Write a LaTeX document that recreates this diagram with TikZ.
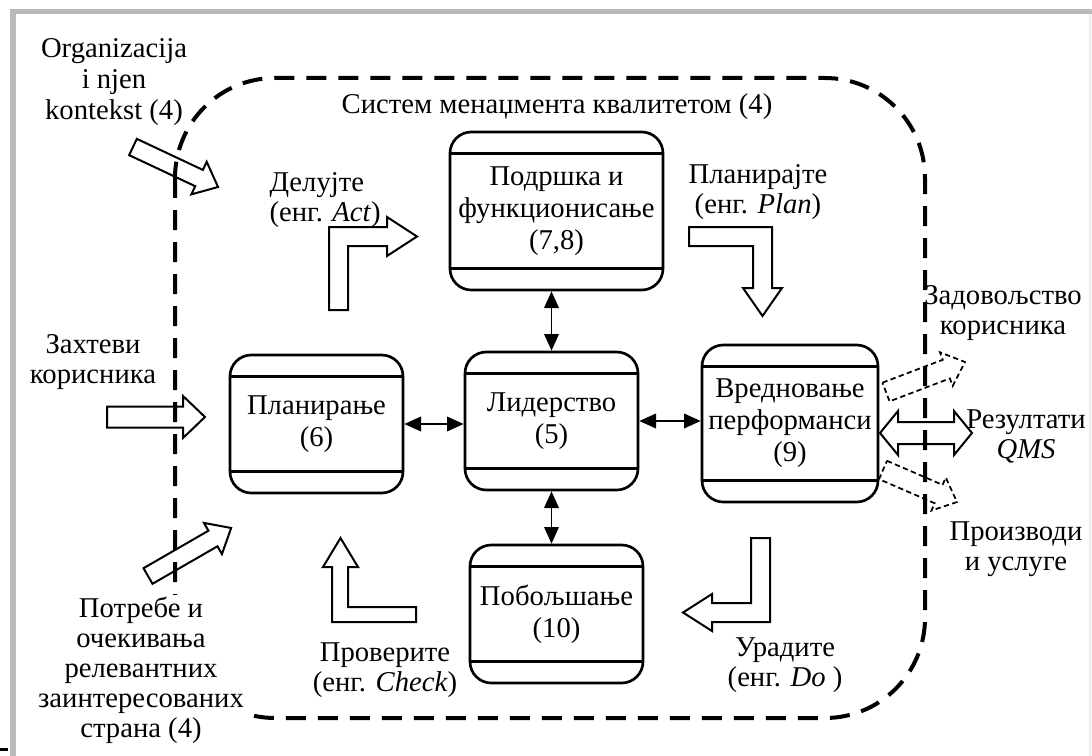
\documentclass[tikz,border=0pt]{standalone}
\usepackage{fontspec}
\setmainfont{Liberation Serif}
\usetikzlibrary{arrows.meta}

% straight hollow block arrow: [style] {tail x,y} {rotation} {length} {shaft half} {head half} {head length}
\newcommand{\blockarrow}[7][]{%
  \draw[blk,#1,shift={(#2)},rotate=#3]
    (0,-#5) -- ({#4-#7},-#5) -- ({#4-#7},-#6) -- (#4,0) --
    ({#4-#7},#6) -- ({#4-#7},#5) -- (0,#5) -- cycle;}

\begin{document}
\begin{tikzpicture}[x=0.75pt,y=-0.75pt,
  lbl/.style={align=center,font=\fontsize{21.5pt}{22.5pt}\selectfont,inner sep=1pt},
  box/.style={draw,line width=2pt,rounded corners=16pt,align=center,inner sep=0pt,
    font=\fontsize{21.5pt}{24pt}\selectfont},
  band/.style={line width=2pt},
  sysline/.style={line width=3pt,dash pattern=on 15pt off 9pt,rounded corners=75pt},
  blk/.style={draw,line width=1.5pt,line join=miter},
  blkdash/.style={line width=1.3pt,dash pattern=on 4pt off 2.5pt},
  link/.style={line width=1.1pt,{Triangle[length=12.5pt,width=11pt]}-{Triangle[length=12.5pt,width=11pt]}}]

\useasboundingbox (0,0) rectangle (1092,756);

% outer frame
\fill[black!27] (10,9) rectangle (1092,14);
\fill[black!27] (10,9) rectangle (16,756);
\draw[black!8,line width=1pt] (1090,14) -- (1090,756);
\fill[black] (0,748) rectangle (8,751);

% system boundary
\draw[sysline] (175,78) rectangle (925,718);

% process boxes
\node[box,minimum width=159.75pt,minimum height=118.5pt] (sup) at (556.5,211)
  {Подршка и\\функционисање\\(7,8)};
\node[box,minimum width=129.75pt,minimum height=103.5pt] (plan) at (316.5,424)
  {Планирање\\(6)};
\node[box,minimum width=129.75pt,minimum height=103.5pt] (lid) at (551.5,421)
  {Лидерство\\(5)};
\node[box,minimum width=132pt,minimum height=117.75pt] (eval) at (790,423.5)
  {Вредновање\\перформанси\\(9)};
\node[box,minimum width=129.75pt,minimum height=103.5pt] (imp) at (556.5,614)
  {Побољшање\\(10)};

\foreach \n in {sup,plan,lid,eval,imp}{
  \draw[band] ([yshift=-17.25pt]\n.north west) -- ([yshift=-17.25pt]\n.north east);
  \draw[band] ([yshift=17.25pt]\n.south west) -- ([yshift=17.25pt]\n.south east);
}

% links between the boxes
\draw[link] (lid.north) -- (lid.north |- sup.south);
\draw[link] (lid.south) -- (lid.south |- imp.north);
\draw[link] (plan.east) -- (plan.east -| lid.west);
\draw[link] (lid.east) -- (lid.east -| eval.west);

% PDCA turning arrows
\draw[blk] (329,310) -- (329,227) -- (387,227) -- (387,217) -- (417,236.5) -- (387,256)
  -- (387,246) -- (348,246) -- (348,310) -- cycle;
\draw[blk] (689,227) -- (772,227) -- (772,288) -- (782,288) -- (762.5,316) -- (743,288)
  -- (753,288) -- (753,246) -- (689,246) -- cycle;
\draw[blk] (770,538) -- (770,622) -- (712,622) -- (712,631) -- (683,612.5) -- (712,594)
  -- (712,603) -- (751,603) -- (751,538) -- cycle;
\draw[blk] (332,622) -- (332,567) -- (323,567) -- (340.5,538) -- (358,567) -- (348,567)
  -- (348,607) -- (416,607) -- (416,622) -- cycle;

% inputs
\blockarrow{133,147}{-25.2}{94}{9}{18}{21}
\blockarrow{107,417}{0}{98}{10.5}{21}{22}
\blockarrow{148,576}{30}{96}{9}{18}{21}

% outputs
\blockarrow[blkdash]{886,392}{20.8}{84.5}{10}{18}{20}
\blockarrow[blkdash]{883,470}{-23.4}{80.6}{10}{18}{20}
\draw[blk] (880,433) -- (898,411) -- (898,422) -- (954,422) -- (954,411) -- (972,433)
  -- (954,455) -- (954,444) -- (898,444) -- (898,455) -- cycle;

% labels
\node[lbl,font=\fontsize{21.5pt}{23.5pt}\selectfont] (ctx) at (114,82)
  {Organizacija\\i njen\\kontekst (4)};
\node[lbl] (qms) at (557,107) {Систем менаџмента квалитетом (4)};
\node[lbl,align=left,anchor=west] (act) at (268,200) {Делујте\\(енг. \textit{Act})};
\node[lbl] (plantxt) at (758,192) {Планирајте\\(енг. \textit{Plan})};
\node[lbl] (req) at (93,362) {Захтеви\\корисника};
\node[lbl,fill=white] (needs) at (141,670)
  {Потребе и\\очекивања\\релевантних\\заинтересованих\\страна (4)};
\node[lbl] (check) at (385,670) {Проверите\\(енг. \textit{Check})};
\node[lbl] (do) at (785,665) {Урадите\\(енг. \textit{Do} )};
\node[lbl] (sat) at (1003,313) {Задовољство\\корисника};
\node[lbl] (res) at (1026,436) {Резултати\\\textit{QMS}};
\node[lbl] (prod) at (1016,549) {Производи\\и услуге};

\end{tikzpicture}
\end{document}
